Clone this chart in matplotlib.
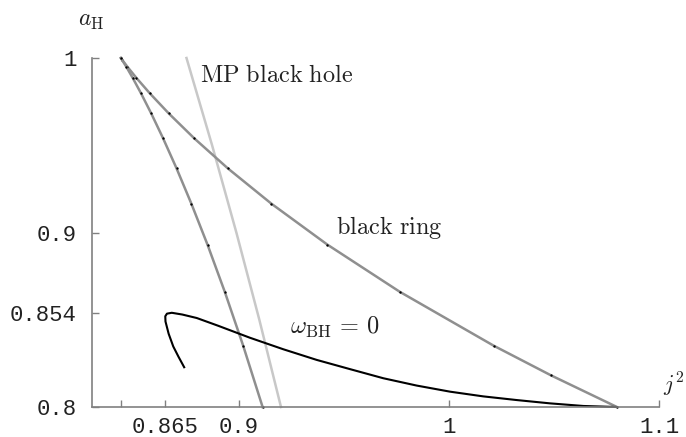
import matplotlib
matplotlib.use("Agg")
import matplotlib.pyplot as plt

plt.rcParams['mathtext.fontset'] = 'cm'

# black ring, thin branch (upper) and fat branch (lower), (j^2, a_H)
ring_thin_j2 = [0.84375, 0.84449, 0.84684, 0.85107, 0.8575, 0.86654, 0.87871,
                0.89469, 0.91542, 0.94212, 0.97656, 1.02126, 1.04858, 1.08]
ring_thin_aH = [1.0, 0.99875, 0.99499, 0.98869, 0.9798, 0.96825, 0.95394,
                0.93675, 0.91652, 0.89303, 0.86603, 0.83516, 0.81815, 0.8]
ring_fat_j2 = [0.84375, 0.84633, 0.84934, 0.85333, 0.8582, 0.86387, 0.87027,
               0.87732, 0.88501, 0.89323, 0.90199, 0.91125]
ring_fat_aH = [1.0, 0.99499, 0.98869, 0.9798, 0.96825, 0.95394, 0.93675,
               0.91652, 0.89303, 0.86603, 0.83516, 0.8]

# Myers-Perry black hole
mp_j2 = [0.875, 0.88719, 0.89875, 0.90969, 0.92]
mp_aH = [1.0, 0.95, 0.9, 0.85, 0.8]

# omega_BH = 0 curve
w0_j2 = [0.8739, 0.8712, 0.8687, 0.8665, 0.8650, 0.8649, 0.8657, 0.8680,
         0.8730, 0.8799, 0.8900, 0.9052, 0.9211, 0.9370, 0.9529, 0.9687,
         0.9846, 1.0005, 1.0163, 1.0322, 1.0481, 1.0640, 1.0798]
w0_aH = [0.8228, 0.8288, 0.8347, 0.8420, 0.8490, 0.8520, 0.8535, 0.8540,
         0.8530, 0.8510, 0.8466, 0.8397, 0.8331, 0.8270, 0.8217, 0.8165,
         0.8123, 0.8088, 0.8061, 0.8040, 0.8021, 0.8006, 0.8000]

xticks = [0.84375, 0.865, 0.9, 1.0, 1.1]
xticklabels = ['', '0.865', '0.9', '1', '1.1']
yticks = [0.8, 0.854, 0.9, 1.0]
yticklabels = ['0.8', '0.854', '0.9', '1']

fig = plt.figure(figsize=(6.86, 4.37), dpi=100)
ax = fig.add_axes([0.1341, 0.0686, 0.8265, 0.7987])

ax.plot(mp_j2, mp_aH, color='#c8c8c8', lw=1.8, clip_on=False)
for xs, ys in [(ring_thin_j2, ring_thin_aH), (ring_fat_j2, ring_fat_aH)]:
    ax.plot(xs, ys, color='#8f8f8f', lw=1.8, clip_on=False)
    ax.plot(xs, ys, ls='none', marker='o', ms=0.7, color='black', clip_on=False)
ax.plot(w0_j2, w0_aH, color='black', lw=1.5, clip_on=False)

ax.set_xlim(0.83, 1.1)
ax.set_ylim(0.8, 1.0)

for s in ['top', 'right']:
    ax.spines[s].set_visible(False)
for s in ['left', 'bottom']:
    ax.spines[s].set_color('#808080')
    ax.spines[s].set_linewidth(1.2)

ax.set_xticks(xticks)
ax.set_xticklabels(xticklabels)
ax.set_yticks(yticks)
ax.set_yticklabels(yticklabels)
ax.tick_params(direction='in', length=5, width=1, color='#808080',
               labelcolor='#222222', labelsize=16)
ax.tick_params(axis='x', pad=7)
ax.tick_params(axis='y', pad=11)
for lab in ax.get_xticklabels() + ax.get_yticklabels():
    lab.set_family('Liberation Mono')

ax.text(0.8814, 0.990, r'$\mathrm{MP\ black\ hole}$', fontsize=17.5,
        va='center', ha='left', color='#222222')
ax.text(0.9462, 0.9029, r'$\mathrm{black\ ring}$', fontsize=17.5,
        va='center', ha='left', color='#222222')
ax.text(0.9243, 0.8454, r'$\omega_{\mathrm{BH}}\,=\,0$', fontsize=17.5,
        va='center', ha='left', color='#222222')

fig.text(78 / 686, 1 - 20 / 437, r'$a_{\mathrm{H}}$', fontsize=17,
         va='center', ha='left', color='#222222')
fig.text(663 / 686, 1 - 385 / 437, r'$j^2$', fontsize=16,
         va='center', ha='left', color='#222222')

fig.savefig('out.png', dpi=100)
